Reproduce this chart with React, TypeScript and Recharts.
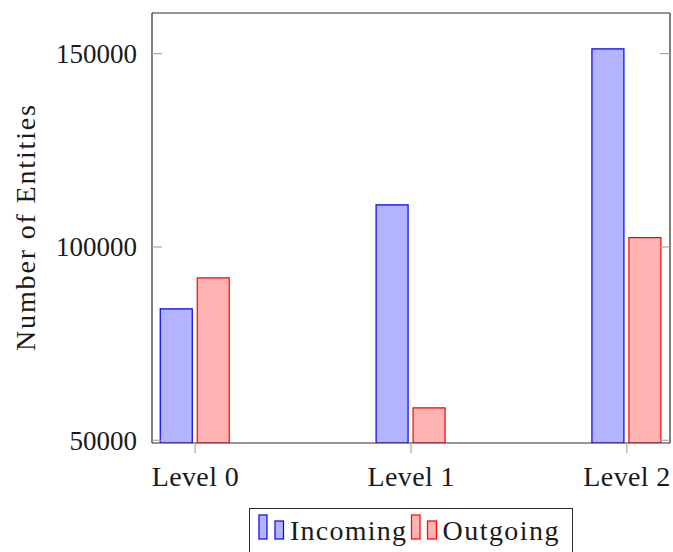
import React from "react";
import { BarChart, Bar, XAxis, YAxis } from "recharts";

const levels = ["Level 0", "Level 1", "Level 2"];
const incoming = [84000, 110900, 151200];
const outgoing = [92000, 58400, 102400];
const yTicks = [50000, 100000, 150000];
const xTicks = [0, 1, 2];

const data = levels.map((name, i) => ({
  x: i,
  name,
  incoming: incoming[i],
  outgoing: outgoing[i],
}));

const FONT = "'Liberation Serif', 'Times New Roman', serif";
const TEXT = "#1a1a1a";
const FRAME = "#2b2b2b";
const TICK = "#a6a6a6";

// left axis: tick mark inside the frame, label outside
function LeftTick(props: any) {
  const { x, y, payload } = props;
  return (
    <g>
      <line x1={x} x2={x + 10} y1={y} y2={y} stroke={TICK} strokeWidth={1.2} />
      <text
        x={x - 15}
        y={y}
        dy="0.35em"
        textAnchor="end"
        fontSize={27}
        fontFamily={FONT}
        fill={TEXT}
      >
        {payload.value}
      </text>
    </g>
  );
}

// right axis: only the inward tick mark
function RightTick(props: any) {
  const { x, y } = props;
  return <line x1={x - 10} x2={x} y1={y} y2={y} stroke={TICK} strokeWidth={1.2} />;
}

function BottomTick(props: any) {
  const { x, y, payload } = props;
  return (
    <text
      x={x}
      y={y + 22.5}
      textAnchor="middle"
      fontSize={28}
      fontFamily={FONT}
      fill={TEXT}
      textLength={87}
      lengthAdjust="spacing"
    >
      {levels[payload.value]}
    </text>
  );
}

function YLabel(props: any) {
  const { viewBox } = props;
  const cx = viewBox.x + 35;
  const cy = viewBox.y + viewBox.height / 2;
  return (
    <text
      x={cx}
      y={cy}
      transform={`rotate(-90, ${cx}, ${cy})`}
      textAnchor="middle"
      fontSize={28}
      fontFamily={FONT}
      fill={TEXT}
      textLength={246}
      lengthAdjust="spacing"
    >
      Number of Entities
    </text>
  );
}

function LegendBox() {
  return (
    <div
      style={{
        position: "absolute",
        left: 249,
        top: 508,
        width: 324,
        height: 50,
        border: `1px solid ${FRAME}`,
        boxSizing: "border-box",
        background: "#fff",
      }}
    >
      <svg width={324} height={48} style={{ position: "absolute", left: 0, top: 0 }}>
        <rect x={9} y={6} width={8} height={24} fill="#b3b3ff" stroke="#0000ff" strokeWidth={1.2} />
        <rect x={25} y={12} width={8.5} height={18} fill="#b3b3ff" stroke="#0000ff" strokeWidth={1.2} />
        <text x={40} y={30.5} fontSize={28} fontFamily={FONT} fill={TEXT} textLength={116} lengthAdjust="spacing">
          Incoming
        </text>
        <rect x={161.5} y={6} width={8.5} height={24} fill="#ffb3b3" stroke="#ff0000" strokeWidth={1.2} />
        <rect x={177.5} y={12} width={9} height={18} fill="#ffb3b3" stroke="#ff0000" strokeWidth={1.2} />
        <text x={192.5} y={30.5} fontSize={28} fontFamily={FONT} fill={TEXT} textLength={116} lengthAdjust="spacing">
          Outgoing
        </text>
      </svg>
    </div>
  );
}

export default function App() {
  return (
    <div
      style={{
        position: "absolute",
        left: 0,
        top: 0,
        width: 673,
        height: 552,
        background: "#fff",
        overflow: "hidden",
      }}
    >
      <BarChart
        width={673}
        height={552}
        data={data}
        margin={{ top: 0, right: 0, bottom: 0, left: 0 }}
        barSize={32}
        barGap={5}
      >
        <XAxis
          dataKey="x"
          type="number"
          domain={[-0.2, 2.2]}
          ticks={xTicks}
          allowDataOverflow
          height={109}
          tickSize={10}
          tickMargin={10}
          tickLine={{ stroke: TICK, strokeWidth: 1.2 }}
          axisLine={{ stroke: FRAME, strokeWidth: 1.2 }}
          tick={<BottomTick />}
        />
        <XAxis
          xAxisId="top"
          orientation="top"
          dataKey="x"
          type="number"
          domain={[-0.2, 2.2]}
          ticks={xTicks}
          allowDataOverflow
          height={13}
          tickSize={10}
          tick={false}
          tickLine={{ stroke: TICK, strokeWidth: 1.2 }}
          axisLine={{ stroke: FRAME, strokeWidth: 1.2 }}
        />
        <YAxis
          type="number"
          domain={[49300, 160500]}
          ticks={yTicks}
          allowDataOverflow
          width={152}
          tickSize={0}
          tickMargin={0}
          tickLine={false}
          tick={<LeftTick />}
          axisLine={{ stroke: FRAME, strokeWidth: 1.2 }}
          label={<YLabel />}
        />
        <YAxis
          yAxisId="r"
          orientation="right"
          type="number"
          domain={[49300, 160500]}
          ticks={yTicks}
          allowDataOverflow
          width={3}
          tickSize={0}
          tickMargin={0}
          tickLine={false}
          tick={<RightTick />}
          axisLine={{ stroke: FRAME, strokeWidth: 1.2 }}
        />
        <Bar
          dataKey="incoming"
          fill="#b3b3ff"
          stroke="#0000ff"
          strokeWidth={1.2}
          isAnimationActive={false}
        />
        <Bar
          dataKey="outgoing"
          fill="#ffb3b3"
          stroke="#ff0000"
          strokeWidth={1.2}
          isAnimationActive={false}
        />
      </BarChart>
      <LegendBox />
    </div>
  );
}
